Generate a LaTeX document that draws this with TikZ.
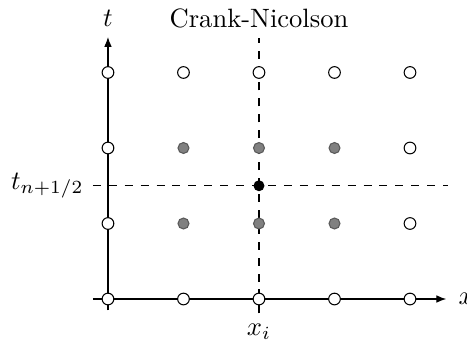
\documentclass[tikz,border=0pt]{standalone}
\usepackage{amsmath}
\usetikzlibrary{positioning,arrows.meta}

\begin{document}
\begin{tikzpicture}[
  open/.style={circle,draw=black,fill=white,inner sep=0pt,minimum size=0.155cm},
  half/.style={circle,draw=black!65,fill=black!50,inner sep=0pt,minimum size=0.145cm},
  mid/.style={circle,draw=black,fill=black,inner sep=0pt,minimum size=0.13cm},
  axis/.style={-{Latex[length=1.3mm,width=1mm]}},
  guide/.style={dashed}
]
\useasboundingbox (-1.43,-0.583) rectangle (4.755,3.96);
% axes and guides
\coordinate (xstart) at (-0.2,0);
\coordinate (xend) at (4.48,0);
\coordinate (tstart) at (0,-0.15);
\coordinate (tend) at (0,3.47);
\coordinate (vtop) at (2,3.46);
\coordinate (vbot) at (2,-0.19);
\coordinate (hleft) at (-0.2,1.5);
\coordinate (hright) at (4.5,1.5);
\draw[guide] (vbot) -- (vtop);
\draw[guide] (hleft) -- (hright);
\draw[axis] (xstart) -- (xend);
\draw[axis] (tstart) -- (tend);
\node[right=0.04cm of xend] (xlab) {$x$};
\node[above=0.02cm of tend] (tlab) {$t$};
\node[anchor=base] (title) at (2,3.60) {Crank-Nicolson};
\node[left=0pt of hleft] (tmid) {$t_{n+1/2}$};
\node[below=0.02cm of vbot] (xi) {$x_i$};
% grid points
\foreach \i in {0,...,4} {
  \node[open] (p\i-0) at (\i,0) {};
  \node[open] (p\i-3) at (\i,3) {};
}
\foreach \j in {1,2} {
  \node[open] (p0-\j) at (0,\j) {};
  \node[open] (p4-\j) at (4,\j) {};
  \foreach \i in {1,2,3}
    \node[half] (p\i-\j) at (\i,\j) {};
}
\node[mid] (center) at (2,1.5) {};
\end{tikzpicture}
\end{document}
